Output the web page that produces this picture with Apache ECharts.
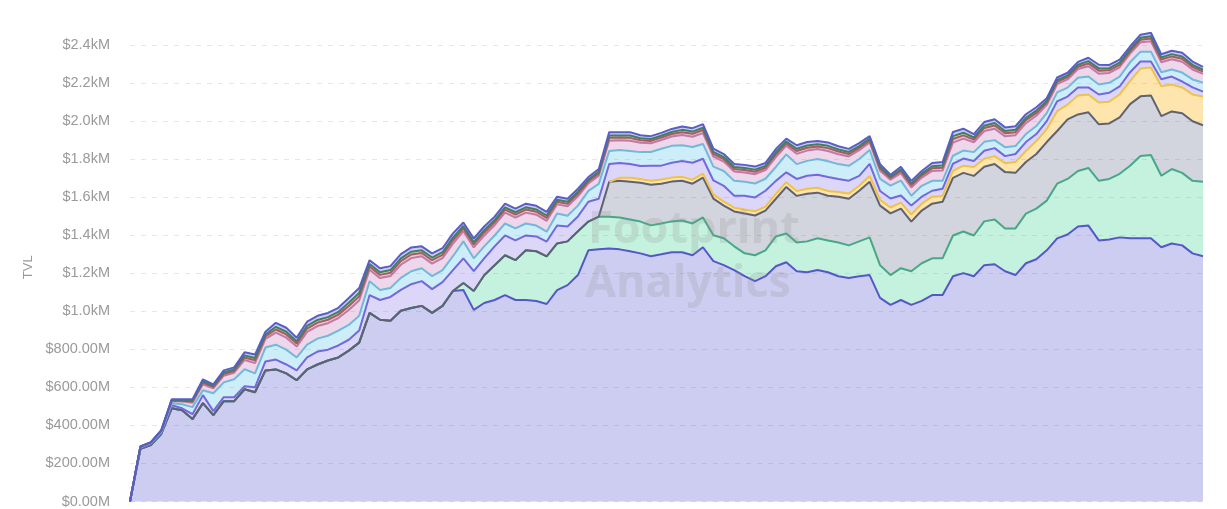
<!DOCTYPE html>
<html><head><meta charset="utf-8">
<script src="https://cdn.jsdelivr.net/npm/echarts@6/dist/echarts.min.js"></script>
<style>html,body{margin:0;padding:0;background:#fff}#c{width:1227px;height:509px}</style>
</head><body><div id="c"></div>
<script>
// TVL per protocol, in $M (stack order bottom -> top); null = protocol not yet live
const s1 = [0,277,297,355,490,480,433,517,454,527,527,590,574,689,694,673,637,694,720,741,757,793,835,991,955,950,1002,1017,1028,991,1028,1106,1111,1007,1043,1059,1085,1059,1059,1054,1038,1111,1137,1190,1320,1325,1330,1325,1315,1304,1289,1299,1310,1310,1294,1336,1263,1242,1216,1184,1158,1184,1236,1257,1210,1205,1216,1205,1184,1174,1184,1190,1070,1033,1059,1033,1054,1085,1085,1184,1200,1184,1242,1247,1210,1190,1252,1273,1320,1383,1403,1445,1450,1372,1377,1388,1383,1383,1383,1336,1356,1346,1304,1289];
const s2 = [0,0,0,0,0,0,0,0,0,0,0,0,0,0,0,0,0,0,0,0,0,0,0,0,0,0,0,0,0,0,0,0,37,99,146,183,209,209,261,261,250,245,230,230,151,172,167,167,167,167,162,162,162,167,167,157,136,141,125,120,136,136,157,151,151,162,167,167,177,172,183,198,172,157,167,177,198,193,193,214,219,214,230,235,224,245,261,266,261,287,292,292,303,313,318,334,381,433,438,376,391,381,381,391];
const s3 = [0,0,0,0,0,0,0,0,0,0,0,0,0,0,0,0,0,0,0,0,0,0,0,0,0,0,0,0,0,0,0,0,0,0,0,0,0,0,0,0,0,0,0,0,0,0,183,193,198,204,214,209,209,209,209,209,193,172,183,209,209,209,198,245,245,250,240,235,240,245,266,292,313,324,313,261,277,287,297,303,308,313,287,292,297,292,271,287,308,277,313,297,292,297,292,297,324,313,313,313,303,313,313,297];
const s4 = [null,null,null,null,null,null,null,null,null,null,null,null,null,null,null,null,null,null,null,null,null,null,null,null,null,null,null,null,null,null,null,null,null,null,null,null,null,null,null,null,null,null,null,null,null,null,0,16,21,20,21,22,21,20,21,21,22,21,20,21,22,21,26,25,26,27,26,25,26,27,26,31,30,31,32,37,36,37,31,37,38,47,42,41,47,57,58,68,68,104,78,99,94,115,114,120,121,146,147,157,141,136,141,151];
const s5 = [0,5,5,5,16,10,26,42,21,21,21,16,26,47,52,47,52,63,68,57,63,57,63,94,104,125,110,125,130,125,125,110,130,104,89,99,104,104,78,78,78,94,78,78,104,94,94,78,73,68,78,73,78,83,89,78,73,83,63,73,73,83,68,52,63,68,68,73,68,68,52,63,47,47,37,47,37,31,37,37,37,31,42,42,37,42,47,37,42,52,42,42,37,42,47,42,47,37,31,37,42,31,37,26];
const s6 = [0,3,5,5,10,21,37,26,94,78,94,89,73,73,78,78,68,68,68,73,78,78,78,73,52,47,63,68,68,68,63,73,89,68,63,57,63,63,63,57,52,63,57,57,57,78,68,68,68,73,73,89,89,83,83,78,73,78,78,73,73,63,73,94,78,78,83,83,78,78,89,73,63,68,78,52,57,52,42,42,42,47,47,42,47,42,42,42,42,47,47,52,57,52,52,52,52,52,52,37,37,47,42,47];
const s7 = [0,2.5,2.5,5.5,11.5,14,23,31,26,35,35,49,54,46,63,63,57,66,66,66,66,78,80,60,63,63,69,69,63,66,63,66,54,57,57,54,57,57,57,57,57,49,49,49,40,43,54,52,54,49,46,46,49,54,54,57,52,49,49,49,49,46,52,46,54,54,52,54,52,49,46,40,43,31,40,43,43,52,54,69,63,52,57,60,57,57,57,54,43,43,43,46,54,57,52,49,46,49,54,52,54,57,52,46];
const s8 = [0,1,1,1.5,3,4,6,9,7,9,9,13,15,12,17,17,16,18,18,18,18,21,22,17,17,17,19,19,17,18,17,18,15,16,16,15,16,16,16,16,16,13,13,13,11,12,15,14,15,13,12,12,13,15,15,16,14,13,13,13,13,12,14,12,15,15,14,15,14,13,12,11,12,9,11,12,12,14,15,19,17,14,16,17,16,16,16,15,12,12,12,12,15,16,14,13,12,13,15,14,15,16,14,12];
const s9 = [0,0.5,0.5,1,2.5,3,5,7,6,8,8,11,12,10,14,14,12,14,14,14,14,17,18,13,14,14,15,15,14,14,14,14,12,12,12,12,12,12,12,12,12,11,11,11,9,9,12,11,12,11,10,10,11,12,12,12,11,11,11,11,11,10,11,10,12,12,11,12,11,11,10,9,9,7,9,9,9,11,12,15,14,11,12,13,12,12,12,12,9,9,9,10,12,12,11,11,10,11,12,11,12,12,11,10];
const s10 = [0,1,1,2,4,5,8,10,8,11,11,16,18,15,21,21,19,22,22,22,22,25,26,20,21,21,22,22,21,22,21,22,18,19,19,18,19,19,19,19,19,16,16,16,13,14,18,17,18,16,15,15,16,18,18,19,17,16,16,16,16,15,17,15,18,18,17,18,17,16,15,13,14,10,13,14,14,17,18,22,21,17,19,20,19,19,19,18,14,14,14,15,18,19,17,16,15,16,18,17,18,19,17,15];

const seriesNames = ['Protocol 1','Protocol 2','Protocol 3','Protocol 4','Protocol 5','Protocol 6','Protocol 7','Protocol 8','Protocol 9','Protocol 10'];
const seriesData = [s1,s2,s3,s4,s5,s6,s7,s8,s9,s10];
const categories = s1.map((_, i) => 'Week ' + (i + 1));
const yTicks = {min: 0, max: 2462, interval: 200};

const lineColors = ['#5557c6','#48a886','#5e6272','#f0c24a','#7468dc','#72b8d8','#c07aa6','#a85a60','#3f7f66','#5a5cc8'];
const areaColors = ['rgba(91,91,208,0.30)','rgba(63,207,149,0.30)','rgba(105,112,145,0.30)','rgba(250,180,20,0.35)','rgba(130,110,235,0.28)','rgba(90,200,235,0.30)','rgba(200,120,190,0.30)','rgba(176,86,106,0.30)','rgba(61,138,106,0.30)','rgba(91,91,208,0.30)'];

function fmt(v) {
  if (v >= 1000) return '$' + (v / 1000).toFixed(1) + 'kM';
  return '$' + v.toFixed(2) + 'M';
}

const chart = echarts.init(document.getElementById('c'), null, {renderer: 'canvas'});
chart.setOption({
  animation: false,
  backgroundColor: '#ffffff',
  grid: {left: 130, right: 24, top: 33, bottom: 2},
  xAxis: {
    type: 'category', data: categories, boundaryGap: false,
    axisLine: {show: false}, axisTick: {show: false}, axisLabel: {show: false}, splitLine: {show: false}
  },
  yAxis: {
    type: 'value', min: yTicks.min, max: yTicks.max, interval: yTicks.interval,
    name: 'TVL', nameLocation: 'middle', nameGap: 87,
    nameTextStyle: {color: '#9a9a9a', fontSize: 13, fontFamily: 'Liberation Sans, Arial, sans-serif'},
    axisLine: {show: false}, axisTick: {show: false},
    axisLabel: {color: '#9a9a9a', fontSize: 14.5, margin: 20, showMaxLabel: false, fontFamily: 'Liberation Sans, Arial, sans-serif', formatter: fmt},
    splitLine: {show: true, showMaxLine: false, lineStyle: {color: '#e6e6e6', type: [5, 6], width: 1}}
  },
  graphic: [
    {type: 'text', left: 588, top: 208, z: 100, silent: true,
     style: {text: 'Footprint', fill: 'rgba(140,140,140,0.20)', font: 'bold 45px "Open Sans", "Liberation Sans", sans-serif'}},
    {type: 'text', left: 585, top: 262, z: 100, silent: true,
     style: {text: 'Analytics', fill: 'rgba(140,140,140,0.20)', font: 'bold 45px "Open Sans", "Liberation Sans", sans-serif'}}
  ],
  series: seriesData.map((d, k) => ({
    name: seriesNames[k], type: 'line', stack: 'total', data: d,
    symbol: 'none', smooth: false, connectNulls: false,
    lineStyle: {width: 2, color: lineColors[k]},
    itemStyle: {color: lineColors[k]},
    areaStyle: {color: areaColors[k], opacity: 1},
    emphasis: {disabled: true}
  }))
});
</script></body></html>
